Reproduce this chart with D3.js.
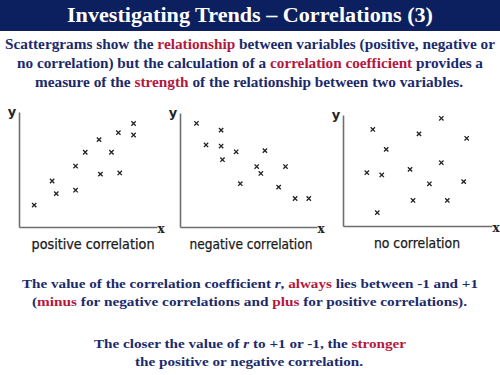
<!DOCTYPE html>
<html>
<head>
<meta charset="utf-8">
<script src="https://cdn.jsdelivr.net/npm/d3@7"></script>
<style>
  body { margin: 0; background: #fff; }
  svg { display: block; }
</style>
</head>
<body>
<div id="chart"></div>
<script>
// values (0-10 units on each axis)
var positiveX = [1.1, 2.4, 2.7, 4.1, 4.1, 4.8, 5.8, 5.9, 6.7, 7.2, 7.3, 8.3, 8.3];
var positiveY = [1.9, 4.0, 2.9, 5.3, 3.2, 6.5, 7.6, 4.6, 6.5, 8.2, 4.7, 9.0, 8.0];
var negativeX = [1.2, 3.0, 1.9, 3.0, 4.1, 6.2, 3.1, 5.6, 5.9, 7.7, 4.4, 7.2, 8.4, 9.4];
var negativeY = [9.1, 8.5, 7.2, 7.1, 6.6, 6.7, 5.9, 5.3, 4.7, 5.3, 3.8, 3.5, 2.5, 2.5];
var noneX = [6.6, 2.0, 5.1, 8.3, 2.9, 6.6, 1.6, 2.6, 4.5, 5.8, 8.1, 4.7, 7.0, 2.3];
var noneY = [9.7, 8.7, 8.3, 7.9, 6.9, 5.7, 4.8, 4.6, 5.1, 3.8, 4.0, 2.3, 2.3, 1.2];
var captions = ["positive correlation", "negative correlation", "no correlation"];

var navy = "#1b2a6b", red = "#b3183d";

var W = 500, H = 375;
var svg = d3.select("#chart").append("svg").attr("width", W).attr("height", H);

// title bar
svg.append("rect").attr("x", 0).attr("y", 0).attr("width", W).attr("height", 31).attr("fill", "#0c1f5e");
svg.append("text").attr("x", W / 2).attr("y", 22).attr("text-anchor", "middle")
  .attr("font-family", "Liberation Serif").attr("font-weight", "bold").attr("font-size", 20.5)
  .attr("fill", "#fff").attr("textLength", 366).attr("lengthAdjust", "spacingAndGlyphs")
  .text("Investigating Trends \u2013 Correlations (3)");

// one line of mixed navy / red text stretched between x0 and x1
function richLine(parts, y, x0, x1, size) {
  var t = svg.append("text").attr("x", x0).attr("y", y)
    .attr("font-family", "Liberation Serif").attr("font-weight", "bold").attr("font-size", size)
    .attr("textLength", x1 - x0).attr("lengthAdjust", "spacingAndGlyphs");
  parts.forEach(function (p) {
    var s = t.append("tspan").attr("fill", p[1] ? red : navy).text(p[0]);
    if (p[2]) s.attr("font-style", "italic");
  });
}

richLine([["Scattergrams show the "], ["relationship", 1], [" between variables (positive, negative or"]], 49, 5, 495, 14);
richLine([["no correlation) but the calculation of a "], ["correlation coefficient", 1], [" provides a"]], 68, 17, 483, 14);
richLine([["measure of the "], ["strength", 1], [" of the relationship between two variables."]], 87, 35, 463, 14);

richLine([["The value of the correlation coefficient "], ["r", 0, 1], [", "], ["always", 1], [" lies between -1 and +1"]], 288, 22, 478, 13);
richLine([["("], ["minus", 1], [" for negative correlations and "], ["plus", 1], [" for positive correlations)."]], 306, 32, 467, 13);
richLine([["The closer the value of "], ["r", 0, 1], [" to +1 or -1, the "], ["stronger", 1]], 348, 94, 406, 13);
richLine([["the positive or negative correlation."]], 366, 135, 363, 13);

// scattergram panels
var panels = [
  { xs: positiveX, ys: positiveY, left: 19, right: 157, top: 112, bottom: 227, capX: 93 },
  { xs: negativeX, ys: negativeY, left: 180, right: 317, top: 113, bottom: 227, capX: 251 },
  { xs: noneX, ys: noneY, left: 343, right: 492, top: 115, bottom: 226, capX: 417 }
];

panels.forEach(function (p, i) {
  var x = d3.scaleLinear().domain([0, 10]).range([p.left, p.right]);
  var y = d3.scaleLinear().domain([0, 10]).range([p.bottom, p.top]);
  var g = svg.append("g");

  g.append("g").attr("transform", "translate(0," + p.bottom + ")")
    .call(d3.axisBottom(x).ticks(0).tickSizeOuter(0))
    .select(".domain").attr("stroke", "#6e6e6e").attr("stroke-width", 1.6);
  g.append("g").attr("transform", "translate(" + p.left + ",0)")
    .call(d3.axisLeft(y).ticks(0).tickSizeOuter(0))
    .select(".domain").attr("stroke", "#6e6e6e").attr("stroke-width", 1.6);

  g.append("text").attr("x", p.left - 7).attr("y", p.top + 4).attr("text-anchor", "middle")
    .attr("font-family", "DejaVu Sans").attr("font-weight", "bold").attr("font-size", 13).attr("fill", "#222").text("y");
  g.append("text").attr("x", p.right + 4).attr("y", p.bottom + 6).attr("text-anchor", "middle")
    .attr("font-family", "DejaVu Serif").attr("font-weight", "bold").attr("font-size", 12).attr("fill", "#222").text("x");

  var cap = captions[i];
  var capW = cap.length * 6.15;
  g.append("text").attr("x", p.capX - capW / 2).attr("y", p.bottom + 22)
    .attr("font-family", "DejaVu Sans").attr("font-size", 13.5).attr("fill", "#1a1a1a")
    .attr("stroke", "#1a1a1a").attr("stroke-width", 0.25)
    .attr("textLength", capW).attr("lengthAdjust", "spacingAndGlyphs").text(cap);

  g.selectAll("path.pt").data(d3.range(p.xs.length)).enter().append("path")
    .attr("class", "pt")
    .attr("transform", function (k) { return "translate(" + x(p.xs[k]) + "," + y(p.ys[k]) + ")"; })
    .attr("d", d3.symbol(d3.symbolTimes).size(14))
    .attr("fill", "none").attr("stroke", "#222").attr("stroke-width", 1.3);
});
</script>
</body>
</html>
